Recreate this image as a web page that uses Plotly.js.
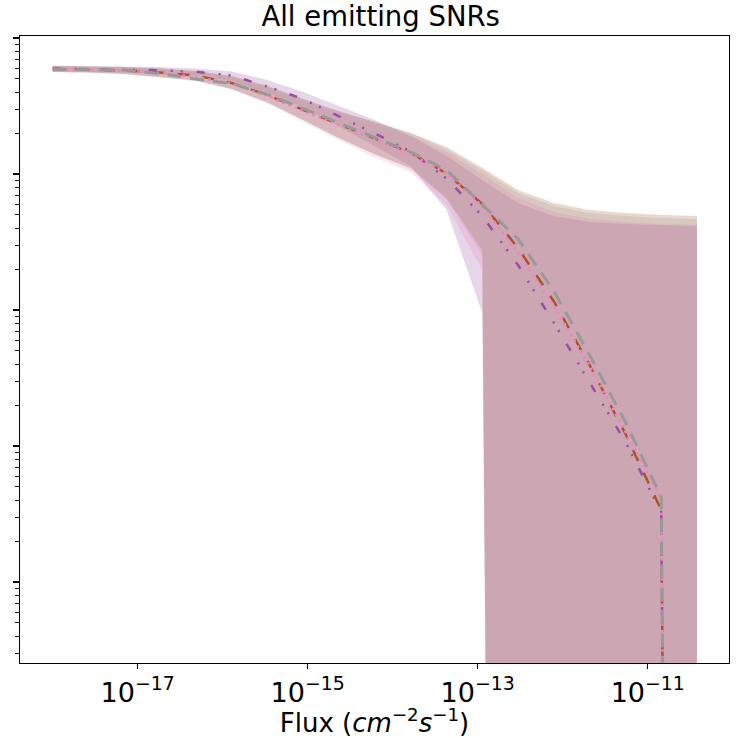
<!DOCTYPE html>
<html>
<head>
<meta charset="utf-8">
<script src="https://cdn.plot.ly/plotly-3.0.1.min.js"></script>
<style>html,body{margin:0;padding:0;background:#fff;}#chart{width:736px;height:738px;}</style>
</head>
<body>
<div id="chart"></div>
<script>
// Flux grid (cm^-2 s^-1)
const flux = [1.00e-18, 2.64e-18, 6.95e-18, 1.83e-17, 4.83e-17, 1.27e-16, 3.36e-16, 8.85e-16,
  2.33e-15, 6.15e-15, 1.63e-14, 4.29e-14, 1.13e-13, 2.98e-13, 7.85e-13, 2.07e-12,
  5.46e-12, 1.44e-11, 3.79e-11];

// Central curves (0 = no sources left)
const purpleMid = [597, 592, 587, 579, 565, 530, 440, 356, 265, 199, 146, 92.8, 49.1, 21.4, 8.07, 2.93, 1.07, 0.327, 0];
const brownMid  = [592, 587, 577, 558, 530, 467, 381, 296, 233, 184, 143, 101, 60.2, 28.6, 11.6, 3.94, 1.23, 0.338, 0];
const pinkMid   = [592, 587, 577, 553, 517, 463, 375, 290, 229, 181, 140, 101, 58.2, 26.2, 10.7, 3.88, 1.27, 0.408, 0];
const grayMid   = [592, 587, 582, 548, 499, 463, 384, 303, 237, 184, 145, 107, 59.2, 33.3, 13.8, 4.67, 1.50, 0.422, 0];

// Spread bands
const purpleHi = [628, 623, 617, 612, 597, 567, 491, 401, 316, 250, 190, 136, 90.3, 61.2, 49.1, 44.4, 42.9, 42.2, 41.5];
const purpleLo = [567, 562, 558, 544, 526, 483, 394, 306, 225, 161, 114, 54.4, 9.50, 0, 0, 0, 0, 0, 0];
const brownHi  = [623, 617, 612, 597, 572, 526, 444, 356, 290, 241, 200, 158, 111, 76.3, 61.2, 54.4, 51.7, 50.0, 49.1];
const brownLo  = [562, 558, 544, 517, 491, 422, 338, 250, 184, 140, 111, 66.6, 27.6, 0, 0, 0, 0, 0, 0];
const pinkHi   = [617, 612, 607, 592, 562, 517, 429, 344, 281, 233, 190, 145, 100, 66.6, 52.6, 46.7, 44.4, 42.9, 42.2];
const pinkLo   = [562, 558, 544, 517, 483, 422, 333, 245, 178, 133, 103, 59.2, 19.7, 0, 0, 0, 0, 0, 0];
const grayHi   = [623, 617, 612, 597, 572, 526, 444, 356, 290, 241, 200, 153, 107, 72.5, 58.2, 51.7, 49.1, 47.5, 46.7];
const grayLo   = [562, 558, 544, 512, 483, 422, 333, 250, 184, 140, 109, 65.5, 25.4, 0, 0, 0, 0, 0, 0];

const xTickVals = [1e-17, 1e-15, 1e-13, 1e-11];
const xTickText = ['10<sup>−17</sup>', '10<sup>−15</sup>', '10<sup>−13</sup>', '10<sup>−11</sup>'];

// non-positive values clipped to a tiny number, like a log axis with nonpositive='clip'
const clip = arr => arr.map(v => v > 0 ? v : 1e-30);

const series = [
  {name: 'purple', color: '#984ea3', rgb: '152,78,163', mid: purpleMid, hi: purpleHi, lo: purpleLo, dash: '8px,14px,2px,8px,2px,14px', w: 2.5},
  {name: 'brown',  color: '#a65628', rgb: '166,86,40',  mid: brownMid,  hi: brownHi,  lo: brownLo,  dash: '12px,13px', w: 2.5},
  {name: 'pink',   color: '#f781bf', rgb: '247,129,191', mid: pinkMid,  hi: pinkHi,   lo: pinkLo,   dash: '2.5px,4px', w: 2.5},
  {name: 'gray',   color: '#999999', rgb: '153,153,153', mid: grayMid,  hi: grayHi,   lo: grayLo,   dash: '14px,9px', w: 3}
];

const traces = [];
series.forEach(s => {
  traces.push({
    x: flux.concat(flux.slice().reverse()),
    y: clip(s.hi).concat(clip(s.lo).reverse()),
    type: 'scatter', mode: 'lines', fill: 'toself',
    fillcolor: 'rgba(' + s.rgb + ',0.23)',
    line: {width: 0, color: 'rgba(0,0,0,0)'},
    hoverinfo: 'skip', showlegend: false
  });
});
series.forEach(s => {
  traces.push({
    x: flux, y: clip(s.mid),
    type: 'scatter', mode: 'lines', name: s.name,
    line: {color: s.color, width: s.w, dash: s.dash},
    showlegend: false
  });
});

const font = 'DejaVu Sans, sans-serif';
const layout = {
  width: 736, height: 738,
  margin: {l: 20, r: 7, t: 36, b: 75},
  paper_bgcolor: '#fff', plot_bgcolor: '#fff',
  showlegend: false,
  title: {text: 'All emitting SNRs', font: {family: font, size: 27.5, color: '#000'},
          x: 0.5087, xanchor: 'center', xref: 'paper', y: 0.9776, yref: 'container', yanchor: 'middle'},
  xaxis: {
    type: 'log', range: [-18.385, -10.044],
    tickmode: 'array', tickvals: xTickVals, ticktext: xTickText,
    ticks: 'outside', ticklen: 5, tickwidth: 1.1, tickcolor: '#000',
    showline: true, linecolor: '#000', linewidth: 1.2, mirror: true,
    showgrid: false, zeroline: false,
    tickfont: {family: font, size: 27, color: '#000'},
    title: {text: 'Flux (<i>cm</i><sup>−2</sup><i>s</i><sup>−1</sup>)', font: {family: font, size: 26, color: '#000'}, standoff: 14}
  },
  yaxis: {
    type: 'log', range: [-1.596, 3.015],
    dtick: 1, showticklabels: false,
    ticks: 'outside', ticklen: 6, tickwidth: 1.1, tickcolor: '#000',
    minor: {ticks: 'outside', ticklen: 3.5, tickwidth: 0.9, tickcolor: '#000', showgrid: false},
    showline: true, linecolor: '#000', linewidth: 1.2, mirror: true,
    showgrid: false, zeroline: false
  }
};

Plotly.newPlot('chart', traces, layout, {staticPlot: true, displayModeBar: false});
</script>
</body>
</html>
